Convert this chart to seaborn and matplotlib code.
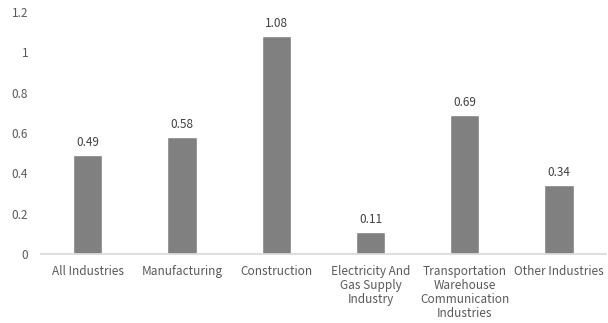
import pandas as pd
import matplotlib
matplotlib.use("Agg")
import matplotlib.pyplot as plt
import seaborn as sns

categories = ["All Industries", "Manufacturing", "Construction",
              "Electricity And\nGas Supply\nIndustry",
              "Transportation\nWarehouse\nCommunication\nIndustries",
              "Other Industries"]
values = [0.49, 0.58, 1.08, 0.11, 0.69, 0.34]
yticks = [0, 0.2, 0.4, 0.6, 0.8, 1, 1.2]
ytick_labels = ["0", "0.2", "0.4", "0.6", "0.8", "1", "1.2"]

df = pd.DataFrame({"category": categories, "value": values})

sns.set_theme(style="white")
plt.rcParams['font.family'] = ['Noto Sans CJK KR', 'DejaVu Sans']

fig = plt.figure(figsize=(6.08, 3.23), dpi=100)
ax = fig.add_axes([0.067, 0.214, 0.93, 0.749])
sns.barplot(data=df, x="category", y="value", color="#808080", saturation=1,
            width=0.31, ax=ax)

for p, v in zip(ax.patches, values):
    ax.text(p.get_x() + p.get_width() / 2, v + 0.03, f"{v:.2f}",
            ha="center", va="bottom", fontsize=8.5, color="#404040")

ax.set_ylim(0, 1.2)
ax.set_yticks(yticks)
ax.set_yticklabels(ytick_labels)
ax.set_xlabel("")
ax.set_ylabel("")
ax.tick_params(axis="both", labelsize=8.5, colors="#595959", length=0)
ax.tick_params(axis="y", pad=9)
ax.tick_params(axis="x", pad=8)
for lbl in ax.get_xticklabels():
    lbl.set_linespacing(1.1)
sns.despine(ax=ax, left=True)
ax.spines["bottom"].set_color("#d9d9d9")

fig.savefig("out.png", dpi=100)
